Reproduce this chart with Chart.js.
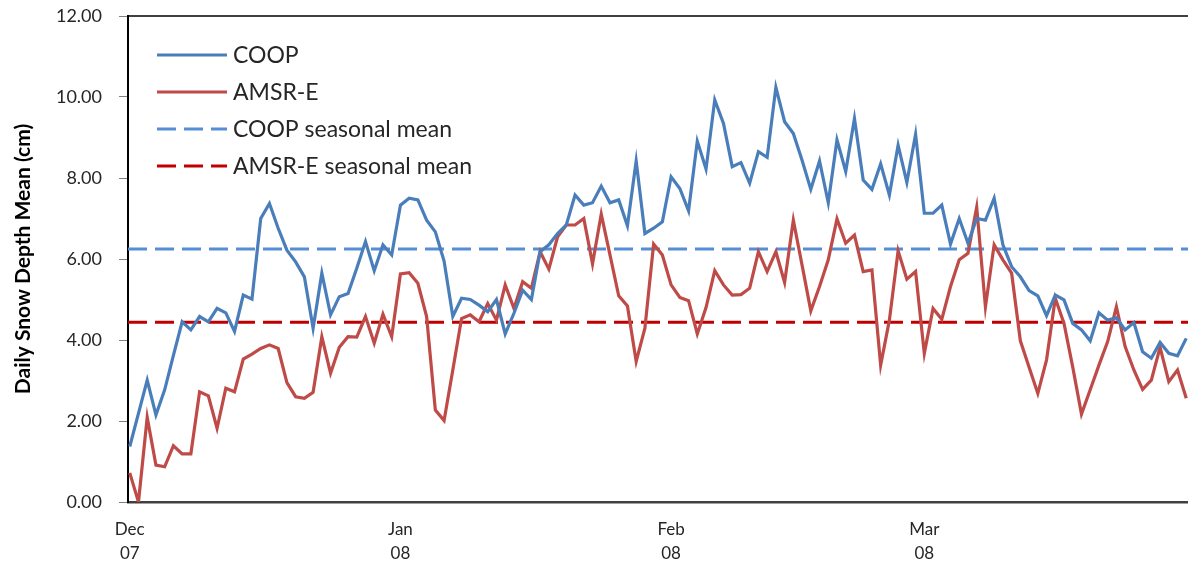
<!DOCTYPE html>
<html>
<head>
<meta charset="utf-8">
<script src="https://cdn.jsdelivr.net/npm/chart.js@4.4.1/dist/chart.umd.min.js"></script>
<style>
  html, body { margin: 0; padding: 0; background: #fff; }
  #wrap { width: 1188px; height: 569px; }
</style>
</head>
<body>
<div id="wrap"><canvas id="snowChart" width="1188" height="569"></canvas></div>
<script>
// daily snow depth mean (cm), 1 Dec 2007 -> 1 Apr 2008
const coopDepth = [
  1.37, 2.19, 3.01, 2.15, 2.77, 3.62, 4.45, 4.25, 4.58, 4.45,
  4.78, 4.67, 4.21, 5.11, 5.01, 7.00, 7.37, 6.76, 6.22, 5.93,
  5.56, 4.29, 5.65, 4.62, 5.07, 5.15, 5.77, 6.43, 5.71, 6.35,
  6.10, 7.33, 7.50, 7.46, 6.96, 6.67, 5.95, 4.58, 5.03, 5.00,
  4.86, 4.70, 5.00, 4.15, 4.66, 5.23, 5.00, 6.18, 6.35, 6.63,
  6.84, 7.58, 7.33, 7.39, 7.80, 7.39, 7.46, 6.82, 8.42, 6.63,
  6.76, 6.92, 8.03, 7.74, 7.19, 8.91, 8.22, 9.93, 9.35, 8.28,
  8.38, 7.87, 8.65, 8.51, 10.24, 9.39, 9.10, 8.44, 7.72, 8.42,
  7.39, 8.94, 8.16, 9.47, 7.95, 7.72, 8.35, 7.58, 8.81, 7.89,
  9.08, 7.13, 7.13, 7.33, 6.37, 7.00, 6.39, 7.00, 6.96, 7.50,
  6.35, 5.81, 5.56, 5.22, 5.09, 4.60, 5.11, 4.99, 4.41, 4.25,
  3.98, 4.67, 4.49, 4.55, 4.25, 4.43, 3.71, 3.55, 3.94, 3.67,
  3.61, 4.04
];
const amsrDepth = [
  0.72, 0.00, 2.09, 0.91, 0.87, 1.39, 1.19, 1.19, 2.72, 2.62,
  1.82, 2.81, 2.72, 3.53, 3.65, 3.79, 3.88, 3.79, 2.95, 2.60,
  2.56, 2.71, 4.08, 3.18, 3.82, 4.08, 4.07, 4.58, 3.92, 4.64,
  4.08, 5.63, 5.66, 5.40, 4.58, 2.27, 2.01, 3.26, 4.53, 4.62,
  4.45, 4.90, 4.49, 5.36, 4.78, 5.44, 5.28, 6.18, 5.75, 6.55,
  6.84, 6.84, 7.00, 5.88, 7.11, 6.10, 5.09, 4.84, 3.47, 4.29,
  6.37, 6.10, 5.36, 5.05, 4.97, 4.15, 4.80, 5.71, 5.36, 5.11,
  5.12, 5.28, 6.18, 5.69, 6.18, 5.42, 6.96, 5.85, 4.72, 5.32,
  5.98, 6.99, 6.39, 6.59, 5.69, 5.73, 3.38, 4.49, 6.20, 5.50,
  5.69, 3.67, 4.78, 4.51, 5.32, 5.98, 6.14, 7.28, 4.82, 6.35,
  5.98, 5.65, 3.98, 3.33, 2.68, 3.51, 5.03, 4.41, 3.33, 2.17,
  2.77, 3.38, 3.96, 4.82, 3.84, 3.26, 2.78, 3.01, 3.82, 2.97,
  3.26, 2.56
];
const coopMean = 6.25;
const amsrMean = 4.44;

// month ticks (day index) and their two-line labels
const monthTicks = [0, 31, 62, 91];
const monthLabels = [['Dec', '07'], ['Jan', '08'], ['Feb', '08'], ['Mar', '08']];
const yTicks = [0, 2, 4, 6, 8, 10, 12];

const toPoints = arr => arr.map((v, i) => ({ x: i, y: v }));
const lastDay = coopDepth.length - 1;

// legend sits inside the plot, top-left, like the Excel original
const insideLegend = {
  id: 'insideLegend',
  afterDraw(chart) {
    const ctx = chart.ctx;
    const a = chart.chartArea;
    const x0 = a.left + 29, x1 = a.left + 99, tx = a.left + 105;
    chart.data.datasets.forEach((ds, i) => {
      const y = a.top + 39 + i * 37;
      ctx.save();
      ctx.strokeStyle = ds.borderColor;
      ctx.lineWidth = 3;
      ctx.setLineDash(ds.borderDash || []);
      ctx.beginPath();
      ctx.moveTo(x0, y);
      ctx.lineTo(x1, y);
      ctx.stroke();
      ctx.setLineDash([]);
      ctx.fillStyle = '#262626';
      ctx.font = '23px Lato';
      ctx.textBaseline = 'middle';
      ctx.fillText(ds.label, tx, y + 1);
      ctx.restore();
    });
  }
};

// top edge of the plot frame
const plotFrame = {
  id: 'plotFrame',
  afterDraw(chart) {
    const ctx = chart.ctx;
    const a = chart.chartArea;
    ctx.save();
    ctx.strokeStyle = '#000';
    ctx.lineWidth = 1.5;
    ctx.beginPath();
    ctx.moveTo(a.left, a.top);
    ctx.lineTo(a.right, a.top);
    ctx.stroke();
    ctx.restore();
  }
};

Chart.defaults.font.family = 'Lato';
Chart.defaults.color = '#262626';

new Chart(document.getElementById('snowChart'), {
  type: 'line',
  data: {
    datasets: [
      {
        label: 'COOP',
        data: toPoints(coopDepth),
        borderColor: '#4A7EBB',
        borderWidth: 3.2,
        pointRadius: 0,
        tension: 0
      },
      {
        label: 'AMSR-E',
        data: toPoints(amsrDepth),
        borderColor: '#BE4B48',
        borderWidth: 3.2,
        pointRadius: 0,
        tension: 0
      },
      {
        label: 'COOP seasonal mean',
        data: [{ x: -0.2, y: coopMean }, { x: lastDay + 0.2, y: coopMean }],
        borderColor: '#558ED5',
        borderWidth: 3,
        borderDash: [19, 8],
        pointRadius: 0
      },
      {
        label: 'AMSR-E seasonal mean',
        data: [{ x: -0.2, y: amsrMean }, { x: lastDay + 0.2, y: amsrMean }],
        borderColor: '#C00000',
        borderWidth: 3,
        borderDash: [19, 8],
        pointRadius: 0
      }
    ]
  },
  options: {
    responsive: false,
    animation: false,
    devicePixelRatio: 1,
    layout: { padding: { top: 16, right: 0, bottom: 0, left: 0 } },
    plugins: {
      legend: { display: false },
      tooltip: { enabled: false }
    },
    scales: {
      x: {
        type: 'linear',
        min: -0.2,
        max: lastDay + 0.2,
        afterBuildTicks(scale) {
          scale.ticks = monthTicks.map(v => ({ value: v }));
        },
        afterFit(scale) {
          scale.height = 67;
          scale.paddingLeft = 0;
          scale.paddingRight = 0;
        },
        grid: { display: false, drawTicks: false },
        border: { display: true, color: '#404040', width: 2.5 },
        ticks: {
          autoSkip: false,
          maxRotation: 0,
          padding: 15,
          font: { size: 17, lineHeight: 1.45 },
          color: '#262626',
          callback(v) {
            const k = monthTicks.indexOf(v);
            return k >= 0 ? monthLabels[k] : '';
          }
        }
      },
      y: {
        min: 0,
        max: 12,
        afterBuildTicks(scale) {
          scale.ticks = yTicks.map(v => ({ value: v }));
        },
        afterFit(scale) {
          scale.width = 128;
          scale.paddingTop = 0;
          scale.paddingBottom = 0;
        },
        grid: {
          drawOnChartArea: false,
          drawTicks: true,
          tickLength: 9,
          tickColor: '#808080',
          tickWidth: 1
        },
        border: { display: true, color: '#000', width: 2 },
        ticks: {
          padding: 17,
          font: { size: 18 },
          color: '#262626',
          callback: v => v.toFixed(2)
        },
        title: {
          display: true,
          text: 'Daily Snow Depth Mean (cm)',
          font: { size: 21, weight: 'bold' },
          color: '#000',
          padding: { top: 11, bottom: 0 }
        }
      }
    }
  },
  plugins: [insideLegend, plotFrame]
});
</script>
</body>
</html>
